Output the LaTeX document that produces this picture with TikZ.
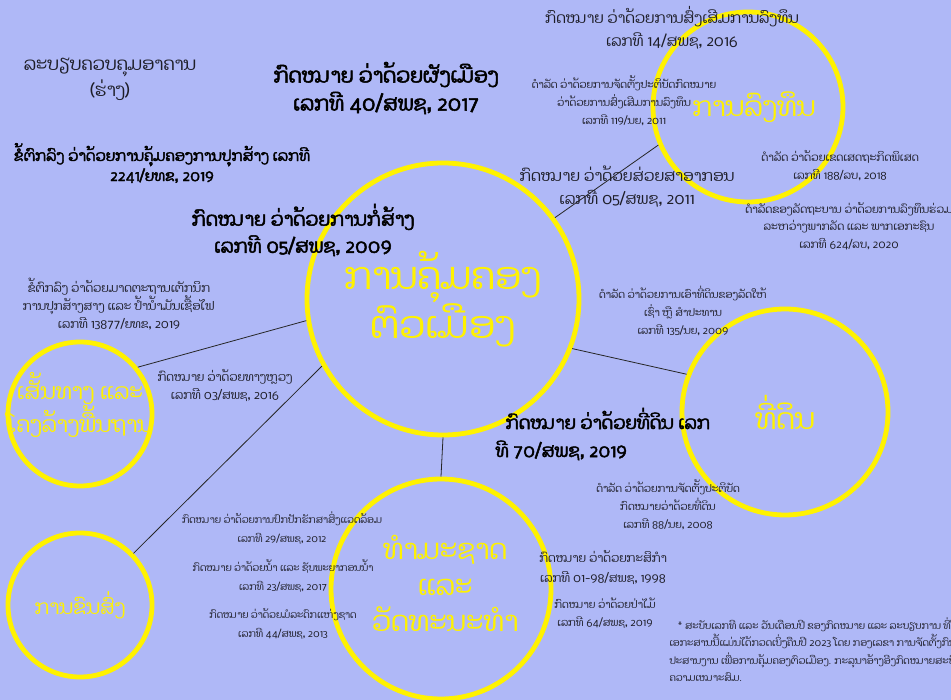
\documentclass[tikz,border=0pt]{standalone}
\usepackage{fontspec}
\newfontfamily\laofont[Script=Lao]{Dhyana}
\newfontfamily\laobold[Script=Lao,FakeBold=2.5]{Dhyana}
\definecolor{bgblue}{RGB}{175,184,247}
\definecolor{ink}{RGB}{30,30,40}

\begin{document}
\begin{tikzpicture}[x=1pt,y=-1pt,
topic/.style={draw=yellow,circle,line width=4.8pt,inner sep=0pt,text=yellow,align=center,
    font=\laofont\fontsize{27}{36}\selectfont},
topictext/.style={text=yellow,align=center,font=\laofont\fontsize{28}{36}\selectfont},
bigtitle/.style={align=center,text=black,font=\laobold\fontsize{19}{28}\selectfont},
law/.style={align=center,text=ink,font=\laofont\fontsize{15}{23}\selectfont},
decree/.style={align=center,text=ink,font=\laofont\fontsize{10.5}{18}\selectfont},
link/.style={draw=black!85,line width=0.8pt}]
\fill [bgblue] (0,0) rectangle (951,700);
\useasboundingbox (0,0) rectangle (951,700);
% topics
\node (cen) [topic,minimum size=272,font=\laofont\fontsize{38}{40}\selectfont] at (443,299) {ການຄຸ້ມຄອງ\\ຕົວເມືອງ};
\node (inv) [topic,minimum size=190] at (748,107) {\hspace*{12pt}ການລົງທຶນ};
\node (land) [topic,minimum size=206,font=\laofont\fontsize{29}{36}\selectfont] at (785,412) {ທີ່ດິນ};
\node (nat) [topic,minimum size=220,
    label={[topictext,xshift=4pt,yshift=6pt]center:ທຳມະຊາດ\\ແລະ\\ວັດທະນະທຳ}] at (441,589) {};
\node (road) [topic,minimum size=144,
    label={[topictext,yshift=9pt,font=\laofont\fontsize{22}{31}\selectfont]center:ເສັ້ນທາງ ແລະ\\ໂຄງລ້າງພື້ນຖານ}] at (80,414) {};
\node (trans) [topic,minimum size=144,font=\laofont\fontsize{20}{30}\selectfont] at (80,605) {ການຂົນສົ່ງ};
% connectors
\draw [link] (cen.36) -- (inv.203);
\draw [link] (cen.-21) -- (land.159);
\draw [link] (cen.south) -- (nat.north);
\draw [link] (cen.189) -- (road.39);
\draw [link] (cen.209) -- (trans.44);
% laws and decrees
\node (draft) [law,font=\laofont\fontsize{18}{26}\selectfont] at (110,79) {ລະບຽບຄວບຄຸມອາຄານ\\(ຮ່າງ)};
\node (plan) [bigtitle,font=\laobold\fontsize{20.5}{28}\selectfont] at (386,88) {ກົດໝາຍ ວ່າດ້ວຍຜັງເມືອງ\\ເລກທີ 40/ສພຊ, 2017};
\node (permit) [bigtitle,font=\laobold\fontsize{15}{20}\selectfont] at (162,163) {ຂໍ້ຕົກລົງ ວ່າດ້ວຍການຄຸ້ມຄອງການປຸກສ້າງ ເລກທີ\\2241/ຍທຂ, 2019};
\node (build) [bigtitle,font=\laobold\fontsize{19}{27}\selectfont] at (303,230) {ກົດໝາຍ ວ່າດ້ວຍການກໍ່ສ້າງ\\ເລກທີ 05/ສພຊ, 2009};
\node (fuel) [decree,font=\laofont\fontsize{12}{18}\selectfont] at (119,304) {ຂໍ້ຕົກລົງ ວ່າດ້ວຍມາດຕະຖານເຕັກນິກ\\ການປຸກສ້າງສາງ ແລະ ປ້ຳນ້ຳມັນເຊື້ອໄຟ\\ເລກທີ 13877/ຍທຂ, 2019};
\node (highway) [decree,font=\laofont\fontsize{12}{18}\selectfont] at (225,385) {ກົດໝາຍ ວ່າດ້ວຍທາງຫຼວງ\\ເລກທີ 03/ສພຊ, 2016};
\node (invlaw) [law] at (672,28) {ກົດໝາຍ ວ່າດ້ວຍການສົ່ງເສີມການລົງທຶນ\\ເລກທີ 14/ສພຊ, 2016};
\node (invdec) [decree] at (624,101) {ດຳລັດ ວ່າດ້ວຍການຈັດຕັ້ງປະຕິບັດກົດໝາຍ\\ວ່າດ້ວຍການສົ່ງເສີມການລົງທຶນ\\ເລກທີ 119/ນຍ, 2011};
\node (tax) [law,font=\laofont\fontsize{15.5}{23}\selectfont] at (627,187) {ກົດໝາຍ ວ່າດ້ວຍສ່ວຍສາອາກອນ\\ເລກທີ 05/ສພຊ, 2011};
\node (sez) [decree,font=\laofont\fontsize{11}{18}\selectfont] at (840,166) {ດຳລັດ ວ່າດ້ວຍເຂດເສດຖະກິດພິເສດ\\ເລກທີ 188/ລບ, 2018};
\node (ppp) [decree,font=\laofont\fontsize{11}{17.5}\selectfont] at (849,226) {ດຳລັດຂອງລັດຖະບານ ວ່າດ້ວຍການລົງທຶນຮ່ວມ\\ລະຫວ່າງພາກລັດ ແລະ ພາກເອກະຊົນ\\ເລກທີ 624/ລບ, 2020};
\node (lease) [decree] at (683,311) {ດຳລັດ ວ່າດ້ວຍການເອົາທີ່ດິນຂອງລັດໃຫ້\\ເຊົ່າ ຫຼື ສຳປະທານ\\ເລກທີ 135/ນຍ, 2009};
\node (landlaw) [bigtitle,align=left,anchor=west,font=\laobold\fontsize{18}{28}\selectfont] at (492,434) {\hspace*{10pt}ກົດໝາຍ ວ່າດ້ວຍທີ່ດິນ ເລກ\\ທີ 70/ສພຊ, 2019};
\node (landdec) [decree] at (668,505) {ດຳລັດ ວ່າດ້ວຍການຈັດຕັ້ງປະຕິບັດ\\ກົດໝາຍວ່າດ້ວຍທີ່ດິນ\\ເລກທີ 88/ນຍ, 2008};
\node (env) [decree,font=\laofont\fontsize{10}{18.5}\selectfont] at (282,528) {ກົດໝາຍ ວ່າດ້ວຍການປົກປັກຮັກສາສິ່ງແວດລ້ອມ\\ເລກທີ 29/ສພຊ, 2012};
\node (water) [decree,font=\laofont\fontsize{10}{18.5}\selectfont] at (283,576) {ກົດໝາຍ ວ່າດ້ວຍນ້ຳ ແລະ ຊັບພະຍາກອນນ້ຳ\\ເລກທີ 23/ສພຊ, 2017};
\node (heritage) [decree,font=\laofont\fontsize{10}{18.5}\selectfont] at (283,624) {ກົດໝາຍ ວ່າດ້ວຍມໍລະດົກແຫ່ງຊາດ\\ເລກທີ 44/ສພຊ, 2013};
\node (agri) [decree,font=\laofont\fontsize{12}{20}\selectfont] at (603,567) {ກົດໝາຍ ວ່າດ້ວຍກະສິກຳ\\ເລກທີ 01-98/ສພຊ, 1998};
\node (forest) [decree] at (605,613) {ກົດໝາຍ ວ່າດ້ວຍປ່າໄມ້\\ເລກທີ 64/ສພຊ, 2019};
\node (note) [decree,align=left,anchor=north west,font=\laofont\fontsize{10}{17.5}\selectfont] at (666,614) {\hspace*{8pt}* ສະບັບເລກທີ ແລະ ວັນເດືອນປີ ຂອງກົດໝາຍ ແລະ ລະບຽບການ ທີ່ໄດ້ລະ\\ເອກະສານນີ້ແມ່ນໄດ້ກວດເບິ່ງຄືນປີ 2023 ໂດຍ ກອງເລຂາ ການຈັດຕັ້ງກົນໄກ\\ປະສານງານ ເພື່ອການຄຸ້ມຄອງຕົວເມືອງ. ກະລຸນາອ້າງອີງກົດໝາຍສະບັບຫຼ້າສຸດ\\ຄວາມເໝາະສົມ.};
\end{tikzpicture}
\end{document}
